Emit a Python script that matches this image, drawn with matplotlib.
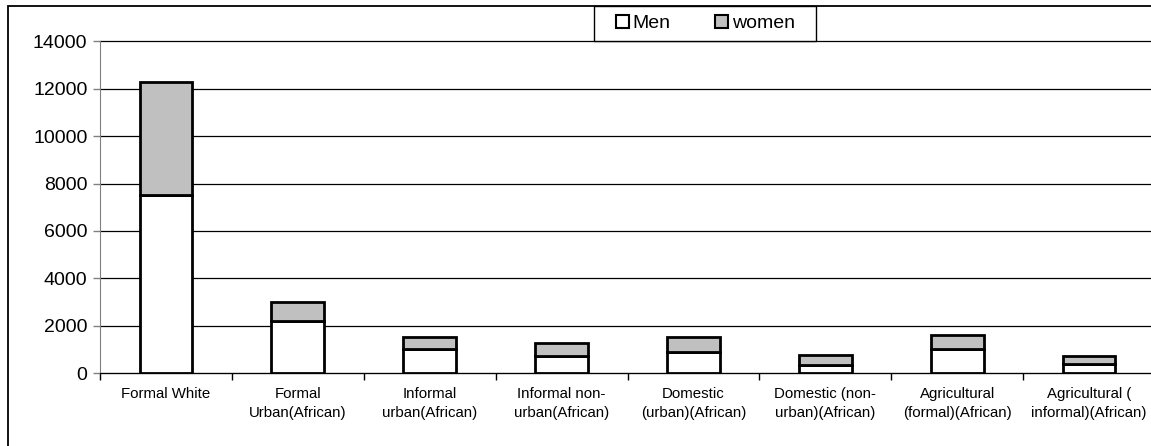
import numpy as np
import matplotlib.pyplot as plt
from matplotlib.patches import Rectangle

plt.rcParams['font.family'] = ['Liberation Sans', 'DejaVu Sans']

categorias = ['Formal White', 'Formal\nUrban(African)', 'Informal\nurban(African)',
              'Informal non-\nurban(African)', 'Domestic\n(urban)(African)',
              'Domestic (non-\nurban)(African)', 'Agricultural\n(formal)(African)',
              'Agricultural (\ninformal)(African)']
hombres = [7500, 2200, 1000, 700, 900, 350, 1000, 380]
mujeres = [4800, 800, 500, 550, 600, 400, 600, 320]

W, H = 1151, 446
fig = plt.figure(figsize=(W / 100, H / 100), dpi=100)
ax = fig.add_axes([100 / W, 73 / H, 1055 / W, 331.5 / H])

x = np.arange(len(categorias))
ax.bar(x, hombres, width=0.4, color='white', edgecolor='black', linewidth=2, label='Men', zorder=3)
ax.bar(x, mujeres, width=0.4, bottom=hombres, color='#c0c0c0', edgecolor='black',
       linewidth=2, label='women', zorder=3)

ax.set_xlim(-0.5, len(categorias) - 0.5)
ax.set_ylim(0, 14000)
ax.set_yticks(range(0, 14001, 2000))
ax.tick_params(axis='y', labelsize=14, length=5, width=1, color='#808080', pad=4)
ax.yaxis.grid(True, color='black', linewidth=0.9)
ax.set_axisbelow(True)
for linea in ax.get_ygridlines():
    linea.set_clip_on(False)

# etiquetas centradas en cada barra, marcas de division entre categorias
ax.set_xticks(x)
ax.set_xticklabels(categorias, fontsize=10.8, linespacing=1.45)
ax.tick_params(axis='x', which='major', length=0, pad=10)
ax.set_xticks(np.arange(-0.5, len(categorias) - 0.4, 1), minor=True)
ax.tick_params(axis='x', which='minor', length=5, width=1, color='black')

for lado in ['top', 'right']:
    ax.spines[lado].set_visible(False)
ax.spines['left'].set_color('#808080')
ax.spines['bottom'].set_color('black')

# marco exterior del grafico
fig.patches.append(Rectangle((8 / W, -0.1), 1.2, (H - 6) / H + 0.1, transform=fig.transFigure,
                             fill=False, edgecolor='black', linewidth=1.3))

# leyenda con su propio recuadro
fig.patches.append(Rectangle((594 / W, 1 - 41 / H), 222 / W, 35 / H, transform=fig.transFigure,
                             facecolor='white', edgecolor='black', linewidth=1, zorder=5))
leg = fig.legend(loc='center left', bbox_to_anchor=(616 / W, 1 - 23.5 / H), ncol=2,
                 fontsize=14, frameon=False, handlelength=0.65, handleheight=0.65,
                 handletextpad=0.2, columnspacing=2.3, borderpad=0, borderaxespad=0)
leg.set_zorder(6)
for h in leg.legend_handles:
    h.set_linewidth(1.5)

fig.savefig('out.png', dpi=100)
